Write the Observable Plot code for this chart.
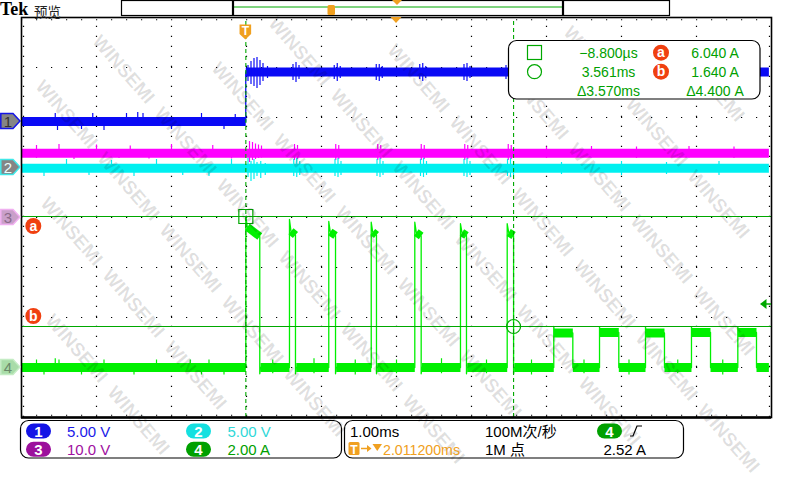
<!DOCTYPE html>
<html>
<head>
<meta charset="utf-8">
<script src="https://cdn.jsdelivr.net/npm/d3@7"></script>
<script src="https://cdn.jsdelivr.net/npm/@observablehq/plot@0.6"></script>
<style>
  html, body { margin: 0; padding: 0; background: #fff; }
  #scope { position: relative; width: 800px; height: 480px; overflow: hidden; }
</style>
</head>
<body>
<div id="scope"></div>
<script>
// ===================== DATA =====================
// Horizontal: 1.00 ms/div, trigger at t = 0, screen spans -3 ms .. +7 ms
const timeDomain = [-3, 7];
const traceEnd = 6.965;

// Channel settings
const chLabels    = ["1", "2", "3", "4"];
const chScaleText = ["5.00 V", "5.00 V", "10.0 V", "2.00 A"];
const chPerDiv    = [5, 5, 10, 2];
const chGroundDiv = [1.92, 1.0, 0.0, -3.0];

// CH1 (V): step at the trigger
const ch1StepTime = -0.01;
const ch1Levels = [0.0, 4.95];
const ch1SpikeT  = [-2.55,-2.52,-2.2,-2.05,-1.9,-1.6,-1.45,-1.38,-1.0,-0.6,-0.3,-0.15, 0.02,0.06,0.1,0.14,0.18,0.22,0.28, 0.62,0.66,0.7, 1.17,1.21,1.25, 1.73,1.77,1.81, 2.31,2.35,2.39, 2.9,2.94,2.98, 3.46];
const ch1SpikeLo = [-0.2,-0.9,-0.8,-0.1,-0.9,-0.1,-0.1,-0.1,-0.8,-0.1,-0.8,-0.1, 4.0,3.7,3.5,3.3,3.6,4.0,4.3, 4.1,3.9,4.2, 4.2,4.0,4.3, 4.1,4.0,4.3, 4.2,4.0,4.3, 4.1,4.0,4.3, 4.2];
const ch1SpikeHi = [0.8,0.3,0.2,0.8,0.2,0.8,0.9,0.8,0.2,0.8,0.2,0.7, 5.6,6.0,6.3,6.4,6.1,5.8,5.5, 5.7,5.9,5.6, 5.6,5.8,5.5, 5.7,5.7,5.5, 5.7,5.8,5.5, 5.7,5.8,5.5, 5.6];

// CH2 (V)
const ch2Level = -0.08;
const ch2SpikeT  = [-2.7,-2.4,-2.1,-1.8,-1.5,-1.2,-0.85,-0.5,-0.2, 0.02,0.06,0.1,0.14,0.19,0.25, 0.63,0.67,0.71, 1.18,1.22,1.26, 1.74,1.78,1.82, 2.32,2.36,2.4, 2.9,2.94,2.98, 3.48,3.52,3.56, 4.2,5.0,5.6,6.3];
const ch2SpikeLo = [-0.9,-0.2,-0.8,-0.3,-0.9,-0.2,-0.8,-0.9,-0.3, -1.0,-1.4,-1.2,-0.9,-1.1,-0.8, -0.9,-1.0,-0.8, -0.9,-1.0,-0.8, -0.9,-1.0,-0.8, -0.9,-1.0,-0.8, -0.9,-1.0,-0.8, -0.9,-1.0,-0.8, -0.7,-0.8,-0.7,-0.8];
const ch2SpikeHi = [0.2,0.8,0.3,0.7,0.2,0.8,0.2,0.3,0.8, 0.9,0.6,0.8,0.5,0.6,0.4, 0.8,0.9,0.6, 0.8,0.9,0.6, 0.8,0.9,0.6, 0.8,0.9,0.6, 0.8,0.9,0.6, 0.8,0.9,0.6, 0.5,0.6,0.5,0.6];

// CH3 (V)
const ch3Level = 12.84;
const ch3SpikeT  = [-2.8,-2.5,-2.3,-2.0,-1.7,-1.55,-1.3,-1.0,-0.7,-0.45,-0.2, 0.04,0.08,0.12,0.16,0.2, 0.64,0.68, 1.19,1.23, 1.75,1.79, 2.33,2.37, 2.91,2.95, 3.49,3.53, 4.0,4.6,5.2,5.9,6.5];
const ch3SpikeLo = [11.8,12.2,11.6,12.2,11.8,12.2,11.7,12.2,11.8,12.2,11.7, 11.0,11.4,11.6,11.8,11.9, 11.4,11.6, 11.4,11.6, 11.4,11.6, 11.4,11.6, 11.4,11.6, 11.4,11.6, 11.8,11.9,11.8,11.9,11.8];
const ch3SpikeHi = [14.4,14.6,13.5,14.5,13.6,14.3,13.4,14.6,13.7,14.4,13.5, 15.2,15.0,14.7,14.5,14.3, 14.6,14.4, 14.6,14.4, 14.6,14.4, 14.6,14.4, 14.6,14.4, 14.6,14.4, 14.1,14.2,14.1,14.2,14.1];

// CH4 (A): seven high-current pulses, then five low-current pulses
const ch4Base = 0.0;
const ch4HighRise  = [-0.009, 0.573, 1.097, 1.663, 2.244, 2.853, 3.476];
const ch4HighFall  = [0.177, 0.653, 1.187, 1.733, 2.329, 2.933, 3.561];
const ch4HighPeak  = [6.04, 5.92, 5.84, 5.81, 5.81, 5.75, 5.75];
const ch4HighStart = [5.62, 5.45, 5.42, 5.42, 5.40, 5.40, 5.40];
const ch4HighEnd   = [5.24, 5.30, 5.28, 5.30, 5.26, 5.28, 5.28];
const ch4LowRise   = [4.097, 4.707, 5.320, 5.933, 6.551];
const ch4LowFall   = [4.351, 4.964, 5.573, 6.187, 6.800];
const ch4LowPeak   = [1.64, 1.62, 1.62, 1.62, 1.62];
const ch4LowLevel  = [1.38, 1.40, 1.38, 1.40, 1.40];
const ch4SpikeT  = [-2.8,-2.7,-2.55,-2.5,-2.2,-1.9,-1.5,-1.2,-0.75,-0.6,-0.5,-0.3, 0.35,0.9,1.45,2.0,2.6,3.2,3.8,4.5,5.1,5.75,6.35];
const ch4SpikeLo = [-0.1,-0.3,-0.1,-0.1,-0.3,-0.1,-0.3,-0.1,-0.1,-0.3,-0.1,-0.3, -0.25,-0.25,-0.3,-0.25,-0.25,-0.25,-0.3,-0.25,-0.3,-0.25,-0.3];
const ch4SpikeHi = [0.3,0.1,0.35,0.3,0.1,0.3,0.1,0.3,0.3,0.1,0.3,0.1, 0.3,0.35,0.3,0.3,0.35,0.3,0.3,0.3,0.3,0.3,0.3];

// Cursors (time in ms, CH4 amplitude in A) and trigger
const cursorTimes = [-0.0088, 3.561];
const cursorAmps  = [6.04, 1.64];
const triggerLevel = 2.52;
const triggerText = "2.011200ms";
const timebaseText = "1.00ms";
const sampleRateText = "100M次/秒";
const recordText = "1M 点";

// ===================== STYLE =====================
const colTrace  = ["#0a0af5", "#00f0f0", "#ff00ff", "#00f000"];
const colText   = ["#1a1ae8", "#30d8d8", "#a010a0", "#00a000"];
const colBadge  = ["#1414e6", "#14e0e0", "#9c109c", "#00a000"];
const colCursor = "#00a800";
const colOrange = "#f0a020";
const colAB     = "#f04010";
const FONT = "'Liberation Sans', Arial, 'Noto Sans CJK SC', sans-serif";

// ===================== BUILD =====================
const dv = (ch, v) => chGroundDiv[ch] + v / chPerDiv[ch];
const spikes = (ch, T, Lo, Hi) => T.map((t, i) => ({t, y1: dv(ch, Lo[i]), y2: dv(ch, Hi[i])}));

const ch1Bands = [
  {t1: timeDomain[0], t2: ch1StepTime, y1: dv(0, ch1Levels[0]), y2: dv(0, ch1Levels[0])},
  {t1: ch1StepTime, t2: traceEnd, y1: dv(0, ch1Levels[1]), y2: dv(0, ch1Levels[1])}
];
const ch1Edge = [{t: ch1StepTime, y: dv(0, ch1Levels[0])}, {t: ch1StepTime, y: dv(0, ch1Levels[1])}];
const ch2Bands = [{t1: timeDomain[0], t2: traceEnd, y1: dv(1, ch2Level), y2: dv(1, ch2Level)}];
const ch3Bands = [{t1: timeDomain[0], t2: traceEnd, y1: dv(2, ch3Level), y2: dv(2, ch3Level)}];

const ch4Bands = [], ch4Path = [];
let prev = timeDomain[0];
ch4Path.push({t: prev, a: ch4Base});
ch4HighRise.forEach((r, i) => {
  ch4Bands.push({t1: prev, t2: r, a1: ch4Base, a2: ch4Base, w: 9});
  ch4Bands.push({t1: r + 0.02, t2: ch4HighFall[i], a1: ch4HighStart[i], a2: ch4HighEnd[i], w: 8});
  ch4Path.push({t: r, a: ch4Base}, {t: r, a: ch4HighPeak[i]}, {t: r + 0.02, a: ch4HighStart[i]},
               {t: ch4HighFall[i], a: ch4HighEnd[i]}, {t: ch4HighFall[i], a: ch4Base - 0.25},
               {t: ch4HighFall[i] + 0.01, a: ch4Base});
  prev = ch4HighFall[i] + 0.01;
});
ch4LowRise.forEach((r, k) => {
  ch4Bands.push({t1: prev, t2: r, a1: ch4Base, a2: ch4Base, w: 9});
  ch4Bands.push({t1: r, t2: ch4LowFall[k], a1: ch4LowLevel[k], a2: ch4LowLevel[k], w: 9});
  ch4Path.push({t: r, a: ch4Base}, {t: r, a: ch4LowPeak[k]}, {t: r + 0.01, a: ch4LowLevel[k]},
               {t: ch4LowFall[k], a: ch4LowLevel[k]}, {t: ch4LowFall[k], a: ch4Base});
  prev = ch4LowFall[k];
});
ch4Bands.push({t1: prev, t2: traceEnd, a1: ch4Base, a2: ch4Base, w: 9});
ch4Path.push({t: traceEnd, a: ch4Base});

// graticule
const gridTimes = d3.range(timeDomain[0] + 1, timeDomain[1]);
const gridDivs = d3.range(-3, 4);

// watermark lattice (pixel layout -> data coords), only complete copies
const wm = [];
for (let m = -9; m <= 9; m++) for (let n = -7; n <= 7; n++) {
  const cx = 366 + 62 * m + 119 * n, cy = 240 + 72 * m + 27 * n;
  if (cx > 33 && cx < 767 && cy > 37 && cy < 443) wm.push({t: (cx - 246) / 75, d: (217 - cy) / 50});
}

const svg = Plot.plot({
  width: 800, height: 480,
  marginLeft: 21, marginRight: 29, marginTop: 17, marginBottom: 63,
  x: {domain: timeDomain, axis: null},
  y: {domain: [-4, 4], axis: null},
  style: {background: "white", fontFamily: FONT},
  marks: [
    // graticule dots
    Plot.ruleX(gridTimes, {x: d => d, y1: -4, y2: 4, stroke: "#000", strokeWidth: 1.2, strokeDasharray: "1.2,8.8"}),
    Plot.ruleY(gridDivs, {y: d => d, x1: timeDomain[0], x2: timeDomain[1], stroke: "#000", strokeWidth: 1.2, strokeDasharray: "1.2,13.8"}),
    Plot.ruleY([3.955, -3.955], {y: d => d, x1: timeDomain[0], x2: timeDomain[1], stroke: "#000", strokeWidth: 1.2, strokeDasharray: "1.2,13.8"}),
    Plot.ruleX([timeDomain[0] + 0.027, timeDomain[1] - 0.027], {x: d => d, y1: -4, y2: 4, stroke: "#000", strokeWidth: 1.2, strokeDasharray: "1.2,8.8"}),
    // CH3
    Plot.link(ch3Bands, {x1: "t1", x2: "t2", y1: "y1", y2: "y2", stroke: colTrace[2], strokeWidth: 9}),
    Plot.ruleX(spikes(2, ch3SpikeT, ch3SpikeLo, ch3SpikeHi), {x: "t", y1: "y1", y2: "y2", stroke: colTrace[2], strokeWidth: 1.2}),
    // CH2
    Plot.link(ch2Bands, {x1: "t1", x2: "t2", y1: "y1", y2: "y2", stroke: colTrace[1], strokeWidth: 9}),
    Plot.ruleX(spikes(1, ch2SpikeT, ch2SpikeLo, ch2SpikeHi), {x: "t", y1: "y1", y2: "y2", stroke: colTrace[1], strokeWidth: 1.2}),
    // CH1
    Plot.link(ch1Bands, {x1: "t1", x2: "t2", y1: "y1", y2: "y2", stroke: colTrace[0], strokeWidth: 9}),
    Plot.line(ch1Edge, {x: "t", y: "y", stroke: colTrace[0], strokeWidth: 1.3}),
    Plot.ruleX(spikes(0, ch1SpikeT, ch1SpikeLo, ch1SpikeHi), {x: "t", y1: "y1", y2: "y2", stroke: colTrace[0], strokeWidth: 1.2}),
    // CH4
    Plot.link(ch4Bands, {x1: "t1", x2: "t2", y1: d => dv(3, d.a1), y2: d => dv(3, d.a2), stroke: colTrace[3], strokeWidth: d => d.w}),
    Plot.line(ch4Path, {x: "t", y: d => dv(3, d.a), stroke: colTrace[3], strokeWidth: 1.3}),
    Plot.ruleX(spikes(3, ch4SpikeT, ch4SpikeLo, ch4SpikeHi), {x: "t", y1: "y1", y2: "y2", stroke: colTrace[3], strokeWidth: 1.2}),
    // cursors
    Plot.ruleY(cursorAmps, {y: a => dv(3, a), x1: timeDomain[0], x2: timeDomain[1], stroke: colCursor, strokeWidth: 1.2}),
    Plot.ruleX(cursorTimes, {x: t => t, y1: -4, y2: 4, stroke: colCursor, strokeWidth: 1.1, strokeDasharray: "4,3"}),
    Plot.dot([0], {x: () => cursorTimes[0], y: () => dv(3, cursorAmps[0]), symbol: "square", r: 7.9, stroke: colCursor, fill: "none", strokeWidth: 1.2}),
    Plot.dot([1], {x: () => cursorTimes[1], y: () => dv(3, cursorAmps[1]), symbol: "circle", r: 7, stroke: colCursor, fill: "none", strokeWidth: 1.2}),
    // frame
    Plot.frame({stroke: "#000", strokeWidth: 1.6}),
    Plot.ruleY([-4], {y: d => d, x1: timeDomain[0], x2: timeDomain[1], stroke: "#000", strokeWidth: 2.6}),
    // watermark
    Plot.text(wm, {x: "t", y: "d", text: () => "WINSEMI", rotate: 49, fontSize: 19, fontWeight: "bold",
      fill: "#000", fillOpacity: 0.12, fontFamily: FONT, ariaLabel: "watermark"})
  ]
});
document.getElementById("scope").append(svg);

// ===================== DECORATIONS (screen furniture) =====================
const yScale = v => 17 + (4 - v) * 50;
const xScale = t => 21 + (t - timeDomain[0]) * 75;
const G = d3.select(svg).append("g").attr("font-family", FONT);

function txt(x, y, s, o = {}) {
  return G.append("text").attr("x", x).attr("y", y).text(s)
    .attr("font-size", o.size || 15).attr("fill", o.fill || "#000")
    .attr("text-anchor", o.anchor || "start").attr("font-weight", o.weight || "normal")
    .attr("font-family", o.family || FONT);
}

// header
txt(0, 14.5, "Tek", {size: 18, weight: "bold", family: "'Liberation Serif', serif"});
txt(34, 16.5, "预览", {size: 13.5, fill: "#222", family: "'Noto Sans CJK SC', sans-serif"});
G.append("rect").attr("x", 121.5).attr("y", 0.5).attr("width", 548).attr("height", 15).attr("fill", "none").attr("stroke", "#000").attr("stroke-width", 1.2);
G.append("line").attr("x1", 234).attr("x2", 562).attr("y1", 7).attr("y2", 7).attr("stroke", colCursor).attr("stroke-width", 1);
[233, 563].forEach(x => G.append("line").attr("x1", x).attr("x2", x).attr("y1", 0).attr("y2", 16).attr("stroke", "#000").attr("stroke-width", 2.2));
G.append("rect").attr("x", 327.5).attr("y", 5).attr("width", 7.5).attr("height", 10).attr("rx", 1.5).attr("fill", colOrange);
G.append("path").attr("d", "M392,0 L402,0 L397,5 Z").attr("fill", colOrange);
G.append("path").attr("d", "M390.5,17 L401.5,17 L396,23 Z").attr("fill", colOrange);

// trigger T marker
const tx = xScale(cursorTimes[0]);
G.append("path").attr("d", `M${tx-5.8},24.5 H${tx+5.8} V34 L${tx},39.5 L${tx-5.8},34 Z`).attr("fill", colOrange);
txt(tx, 34.5, "T", {size: 12, weight: "bold", fill: "#fff", anchor: "middle"});

// channel ground markers (left)
const markerStyle = [
  {fill: "#858585", stroke: "#1414e6", text: "#333"},
  {fill: "#858585", stroke: "#40e8e8", text: "#eaffff"},
  {fill: "#c9a0c9", stroke: "#f0b0f0", text: "#8a6a8a"},
  {fill: "#a8dca8", stroke: "#c4ecc4", text: "#6a8a6a"}
];
chLabels.forEach((lab, i) => {
  const y = yScale(chGroundDiv[i]);
  const s = markerStyle[i];
  G.append("path").attr("d", `M0.8,${y-7.5} H13 L20,${y} L13,${y+7.5} H0.8 Z`)
    .attr("fill", s.fill).attr("stroke", s.stroke).attr("stroke-width", 1.5);
  txt(8, y + 5.5, lab, {size: 15, fill: s.text, anchor: "middle"});
});

// cursor a / b labels
cursorAmps.forEach((a, i) => {
  const y = yScale(dv(3, a)) + (i === 0 ? 10 : -10);
  G.append("circle").attr("cx", 33.3).attr("cy", y).attr("r", 8).attr("fill", colAB);
  txt(33.3, y + 4.5, i === 0 ? "a" : "b", {size: 14, weight: "bold", fill: "#fff", anchor: "middle"});
});

// trigger level arrow
const ty = yScale(dv(3, triggerLevel));
G.append("path").attr("d", `M760,${ty} L766.5,${ty-5} L766.5,${ty+5} Z`).attr("fill", colCursor);
G.append("line").attr("x1", 766).attr("x2", 771).attr("y1", ty).attr("y2", ty).attr("stroke", colCursor).attr("stroke-width", 1.5);

// cursor readout box
G.append("rect").attr("x", 508.5).attr("y", 40.5).attr("width", 251.5).attr("height", 58.5).attr("rx", 8)
  .attr("fill", "#fff").attr("stroke", "#000").attr("stroke-width", 1.2);
G.append("rect").attr("x", 527.5).attr("y", 45.5).attr("width", 14).attr("height", 14).attr("fill", "none").attr("stroke", colCursor).attr("stroke-width", 1.2);
G.append("circle").attr("cx", 534.5).attr("cy", 71.7).attr("r", 7).attr("fill", "none").attr("stroke", colCursor).attr("stroke-width", 1.2);
const fmtT = t => Math.abs(t) < 0.1 ? (t < 0 ? "−" : "") + Math.abs(t * 1000).toFixed(3) + "µs" : t.toFixed(3) + "ms";
const readT = [fmtT(cursorTimes[0]), fmtT(cursorTimes[1]), "Δ" + (cursorTimes[1] - cursorTimes[0]).toFixed(3) + "ms"];
const readA = [cursorAmps[0].toFixed(3) + " A", cursorAmps[1].toFixed(3) + " A", "Δ" + (cursorAmps[0] - cursorAmps[1]).toFixed(3) + " A"];
[57.7, 76.7, 95.7].forEach((by, i) => {
  txt(608.5, by, readT[i], {size: 14, fill: "#00a000", anchor: "middle"});
  txt(715, by, readA[i], {size: 14, fill: "#00a000", anchor: "middle"});
});
["a", "b"].forEach((s, i) => {
  const cy = 52.7 + 19 * i;
  G.append("circle").attr("cx", 661).attr("cy", cy).attr("r", 8).attr("fill", colAB);
  txt(661, cy + 4.5, s, {size: 14, weight: "bold", fill: "#fff", anchor: "middle"});
});

// status bar
G.append("rect").attr("x", 20.5).attr("y", 420.5).attr("width", 321).attr("height", 37.5).attr("rx", 8).attr("fill", "none").attr("stroke", "#000").attr("stroke-width", 1.2);
G.append("rect").attr("x", 344.5).attr("y", 420.5).attr("width", 339).attr("height", 37.5).attr("rx", 8).attr("fill", "none").attr("stroke", "#000").attr("stroke-width", 1.2);
const badge = (x, cy, lab, col) => {
  G.append("rect").attr("x", x).attr("y", cy - 7.5).attr("width", 25).attr("height", 15).attr("rx", 7.5).attr("fill", col);
  txt(x + 12.5, cy + 5.5, lab, {size: 15, weight: "bold", fill: "#fff", anchor: "middle"});
};
const badgePos = [[26, 431, 67], [186, 431, 227.5], [26, 449.2, 67], [186, 449.2, 227.5]];
chLabels.forEach((lab, i) => {
  const [bx, cy, tx2] = badgePos[i];
  badge(bx, cy, lab, colBadge[i]);
  txt(tx2, cy + 5.5, chScaleText[i], {size: 15, fill: colText[i]});
});
txt(350, 436.5, timebaseText, {size: 15});
G.append("rect").attr("x", 348.5).attr("y", 442).attr("width", 11).attr("height", 13).attr("rx", 1.5).attr("fill", colOrange);
txt(354, 453.5, "T", {size: 12, weight: "bold", fill: "#fff", anchor: "middle"});
// arrow and delay triangle
G.append("line").attr("x1", 361).attr("x2", 368).attr("y1", 448.5).attr("y2", 448.5).attr("stroke", colOrange).attr("stroke-width", 1.5);
G.append("path").attr("d", "M367,445 L371.5,448.5 L367,452 Z").attr("fill", colOrange);
G.append("path").attr("d", "M372.5,444 L382,444 L377.25,451 Z").attr("fill", colOrange);
txt(383, 454.5, triggerText, {size: 14.2, fill: colOrange});
txt(485, 436.5, sampleRateText, {size: 15});
txt(485, 454.5, recordText, {size: 15});
badge(597, 431, "4", colBadge[3]);
G.append("path").attr("d", "M630,436 H633 L637,426 H642").attr("fill", "none").attr("stroke", "#000").attr("stroke-width", 1.2);
txt(603.5, 454.5, triggerLevel.toFixed(2) + " A", {size: 15});

// move watermark to the very top
const wmg = svg.querySelector('g[aria-label="watermark"]');
if (wmg) svg.appendChild(wmg);
</script>
</body>
</html>
